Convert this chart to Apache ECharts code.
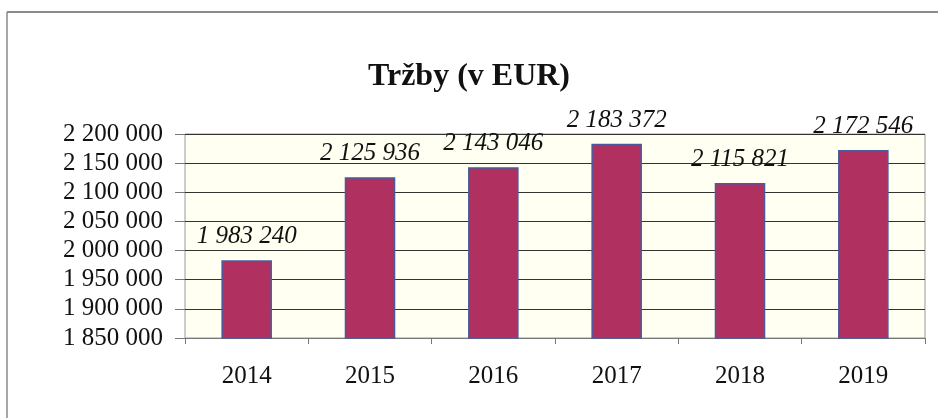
<!DOCTYPE html>
<html>
<head>
<meta charset="utf-8">
<script src="https://cdn.jsdelivr.net/npm/echarts@6/dist/echarts.min.js"></script>
<style>
  html, body { margin: 0; padding: 0; background: #fff; }
  #chart { width: 938px; height: 418px; }
</style>
</head>
<body>
<div id="chart"></div>
<script>
const years = ['2014', '2015', '2016', '2017', '2018', '2019']
const revenue = [1983240, 2125936, 2143046, 2183372, 2115821, 2172546]

// "2 183 372" style, space as thousands separator
function spaced(v) {
  return String(v).replace(/\B(?=(\d{3})+(?!\d))/g, ' ')
}

const serif = '"Liberation Serif", "Times New Roman", serif'
const chart = echarts.init(document.getElementById('chart'))

chart.setOption({
  backgroundColor: '#fff',
  animation: false,
  textStyle: { fontFamily: serif },
  title: {
    text: 'Tržby (v EUR)',
    left: 'center',
    top: 56,
    textStyle: { fontFamily: serif, fontSize: 32, fontWeight: 'bold', color: '#111' }
  },
  graphic: [
    { type: 'line', shape: { x1: 7, y1: 12, x2: 938, y2: 12 }, style: { stroke: '#8a8a8a', lineWidth: 2 } },
    { type: 'line', shape: { x1: 7, y1: 12, x2: 7, y2: 418 }, style: { stroke: '#8a8a8a', lineWidth: 1.5 } }
  ],
  grid: {
    left: 185,
    right: 13,
    top: 134,
    bottom: 80,
    show: true,
    backgroundColor: '#fffff2',
    borderColor: '#9a9a9a',
    borderWidth: 1
  },
  xAxis: {
    type: 'category',
    data: years,
    axisLine: { lineStyle: { color: '#777' } },
    axisTick: { show: true, length: 6, lineStyle: { color: '#777' } },
    axisLabel: { fontFamily: serif, fontSize: 25, color: '#111', margin: 26 }
  },
  yAxis: {
    type: 'value',
    min: 1850000,
    max: 2200000,
    interval: 50000,
    axisLine: { show: false },
    axisTick: { show: true, length: 10, inside: false, lineStyle: { color: '#777' } },
    splitLine: { lineStyle: { color: '#333', width: 1 } },
    axisLabel: {
      fontFamily: serif, fontSize: 25, color: '#111', margin: 22,
      formatter: v => spaced(v)
    }
  },
  series: [{
    type: 'bar',
    data: revenue,
    barWidth: '41%',
    itemStyle: { color: '#b0305f', borderColor: '#4a5a9c', borderWidth: 1.5 },
    label: {
      show: true,
      position: 'top',
      distance: 11,
      fontFamily: serif,
      fontSize: 25,
      fontStyle: 'italic',
      color: '#111',
      formatter: p => spaced(p.value)
    }
  }]
})
</script>
</body>
</html>
